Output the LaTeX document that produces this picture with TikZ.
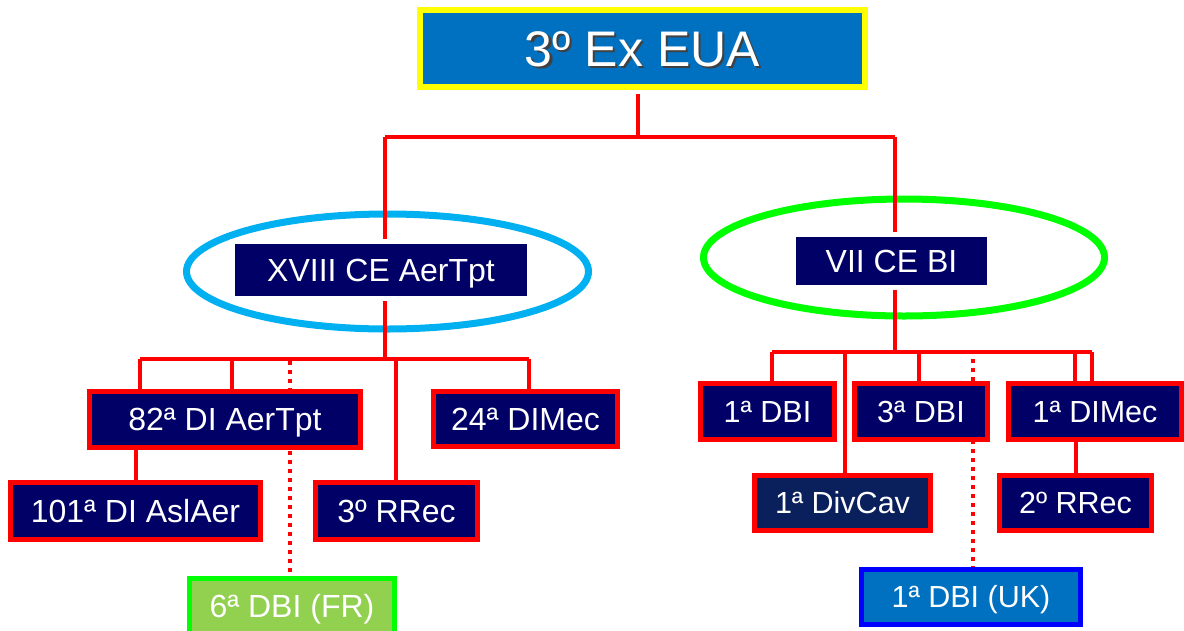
\documentclass[tikz,border=0pt]{standalone}
\usepackage{fontspec}
\setmainfont{Liberation Sans}
\usetikzlibrary{backgrounds}
\definecolor{exred}{HTML}{FF0000}
\definecolor{exnavy}{HTML}{000066}
\definecolor{exdarkblue}{HTML}{0A205C}
\definecolor{exblue}{HTML}{0070C0}
\definecolor{exyellow}{HTML}{FFFF00}
\definecolor{excyan}{HTML}{00B0F0}
\definecolor{exgreen}{HTML}{00FF00}
\definecolor{exlgreen}{HTML}{92D050}
\definecolor{expure}{HTML}{0000FF}
\tikzset{
  conn/.style={draw=exred, line width=4pt},
  dotconn/.style={draw=exred, line width=4pt, dash pattern=on 4pt off 5pt},
  boxtext/.style={text=white, inner sep=0pt, font=\fontsize{30.5}{36}\selectfont, text height=21.5pt, text depth=0pt},
  bigtext/.style={font=\fontsize{32}{38}\selectfont, text height=22.5pt},
  rbox/.style={boxtext, draw=exred, line width=5pt, fill=exnavy},
  cebox/.style={boxtext, bigtext, fill=exnavy, preaction={draw=white, line width=10pt}},
  topbox/.style={draw=exyellow, line width=6pt, fill=exblue, inner sep=0pt},
  toptext/.style={inner sep=0pt, font=\fontsize{50}{60}\selectfont, text height=36pt, text depth=0pt},
  ring/.style={line width=7pt},
}
\begin{document}
\begin{tikzpicture}[x=1pt,y=-1pt]
\useasboundingbox (0,0) rectangle (1184,630);
% junctions
\coordinate (tj) at (638,137);
\coordinate (lj) at (385,137);
\coordinate (rj) at (895,137);
\coordinate (lb) at (385,359);
\coordinate (lb1) at (140,359);
\coordinate (lb2) at (232,359);
\coordinate (lb3) at (290,359);
\coordinate (lb4) at (396,359);
\coordinate (lb5) at (529,359);
\coordinate (rb) at (895,352);
\coordinate (rb1) at (772,352);
\coordinate (rb2) at (845,352);
\coordinate (rb3) at (919,352);
\coordinate (rb4) at (973,352);
\coordinate (rb5) at (1075,352);
\coordinate (rb6) at (1092,352);
% top
\node[topbox, minimum width=445pt, minimum height=77pt] (top) at (642.5,48.5) {};
\node[toptext, text=black!75] (topshadow) at ([shift={(2pt,-2pt)}]top.center) {3º Ex EUA};
\node[toptext, text=white] (toplabel) at (top.center) {3º Ex EUA};
% corps
\node[cebox, minimum width=292pt, minimum height=52pt] (ce18) at (381,270) {XVIII CE AerTpt};
\node[cebox, minimum width=191pt, minimum height=48pt] (ce7) at (891.5,261) {VII CE BI};
% left
\node[rbox, bigtext, minimum width=271pt, minimum height=56pt] (b82) at (225,419.5) {82ª DI AerTpt};
\node[rbox, bigtext, minimum width=184pt, minimum height=55pt] (b24) at (525.5,419) {24ª DIMec};
\node[rbox, bigtext, minimum width=250pt, minimum height=57pt] (b101) at (135.5,511) {101ª DI AslAer};
\node[rbox, bigtext, minimum width=162pt, minimum height=57pt] (b3r) at (396.5,511) {3º RRec\hspace{10pt}};
\node[rbox, bigtext, draw=exgreen, fill=exlgreen, minimum width=205pt, minimum height=56pt] (bfr) at (292,606) {6ª DBI (FR)};
% right
\node[rbox, minimum width=134pt, minimum height=56pt] (d1) at (767.5,411.5) {1ª DBI};
\node[rbox, minimum width=133pt, minimum height=56pt] (d3) at (921,411.5) {3ª DBI};
\node[rbox, minimum width=173pt, minimum height=56pt] (dmec) at (1095,411.5) {1ª DIMec};
\node[rbox, fill=exdarkblue, minimum width=176pt, minimum height=55pt] (dcav) at (842.5,503) {1ª DivCav};
\node[rbox, minimum width=152pt, minimum height=55pt] (rr) at (1075.5,503) {2º RRec};
\node[rbox, draw=expure, fill=exblue, minimum width=219pt, minimum height=55pt] (uk) at (971,597) {1ª DBI (UK)};
% rings and connectors
\begin{scope}[on background layer]
\draw[ring, draw=excyan] (387.5,271.5) ellipse [x radius=201pt, y radius=57.5pt];
\draw[ring, draw=exgreen] (904,257.5) ellipse [x radius=200.5pt, y radius=58.5pt];
\draw[conn, shorten <=4pt] (tj |- top.south) -- (tj);
\draw[conn] (lj) -- (rj);
\draw[conn] (lj) -- (lb);
\draw[conn] (rj) -- (rb);
\draw[conn] (lb1) -- (lb5);
\draw[conn] (lb1) -- (lb1 |- b82.north);
\draw[conn] (lb2) -- (lb2 |- b82.north);
\draw[dotconn, shorten <=2pt] (lb3) -- (lb3 |- bfr.north);
\draw[conn] (lb4) -- (lb4 |- b3r.north);
\draw[conn] (lb5) -- (lb5 |- b24.north);
\draw[conn] (b101.north) -- (b101.north |- b82.south);
\draw[conn] (rb1) -- (rb6);
\draw[conn] (rb1) -- (rb1 |- d1.north);
\draw[conn] (rb2) -- (rb2 |- dcav.north);
\draw[conn] (rb3) -- (rb3 |- d3.north);
\draw[dotconn, shorten <=7pt] (rb4) -- (rb4 |- uk.north);
\draw[conn] (rb5) -- (rb5 |- dmec.north);
\draw[conn] (rb6) -- (rb6 |- dmec.north);
\draw[conn] (rr.north) -- (rr.north |- dmec.south);
\end{scope}
\end{tikzpicture}
\end{document}
